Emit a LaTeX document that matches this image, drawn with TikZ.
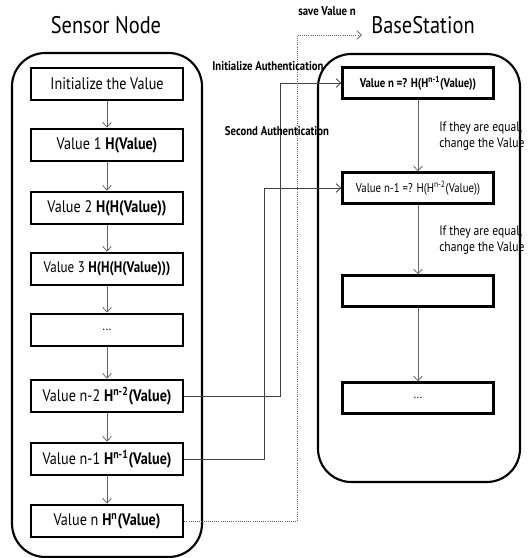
\documentclass[tikz,border=0pt]{standalone}
\usepackage{xcolor}
\usepackage{amsmath}
\usepackage{fontspec}
\setmainfont{PT Sans}[FakeStretch=0.85]
\usepackage{tikz}
\usetikzlibrary{arrows.meta}

\tikzset{
	sbox/.style={draw, line width=2pt, minimum width=114pt, minimum height=24pt, font=\fontsize{12.5}{14}\selectfont, inner sep=0pt},
	bbox/.style={draw, line width=2pt, minimum width=113pt, minimum height=23pt, font=\fontsize{9.5}{11}\selectfont, inner sep=0pt},
	frame/.style={draw, line width=1.6pt, rounded corners=25pt},
	flow/.style={-{Straight Barb[length=3.5pt,width=6.5pt]}, draw=black!60, line width=0.6pt},
	lbl/.style={font=\fontsize{9.5}{11}\bfseries, inner sep=0pt},
	note/.style={font=\fontsize{10.2}{11.5}\selectfont, align=left, inner sep=0pt, anchor=west},
}

\begin{document}
\begin{tikzpicture}[x=0.75pt, y=-0.75pt]
			\useasboundingbox (0,0) rectangle (529,558);
			\node[font=\fontsize{18}{20}\selectfont] (sn) at (106,25) {Sensor Node};
			\node[font=\fontsize{18}{20}\selectfont] (bs) at (423,25) {BaseStation};
			\draw[frame] (12,53) rectangle (202,557);
			\draw[frame] (318,54) rectangle (520,482);
			\node[sbox] (init) at (107,84) {Initialize the Value};
			\node[sbox] (v1) at (107,145) {Value 1 \textbf{H(Value)}};
			\node[sbox] (v2) at (107,208) {Value 2 \textbf{H(H(Value))}};
			\node[sbox, font=\fontsize{11.5}{13}\selectfont] (v3) at (107,269) {Value 3 \textbf{H(H(H(Value)))}};
			\node[sbox, font=\fontsize{10}{12}\selectfont] (vd) at (107,330) {...};
			\node[sbox] (vn2) at (107,396) {Value n-2 \textbf{H\textsuperscript{n-2}(Value)}};
			\node[sbox] (vn1) at (107,459) {Value n-1 \textbf{H\textsuperscript{n-1}(Value)}};
			\node[sbox] (vn) at (107,521) {Value n \textbf{H\textsuperscript{n}(Value)}};
			\node[bbox] (b1) at (418,83) {\textbf{Value n =? H(H\textsuperscript{n-1}(Value))}};
			\node[bbox] (b2) at (418,188) {Value n-1 =? H(H\textsuperscript{n-2}(Value))};
			\node[bbox] (b3) at (418,291) {};
			\node[bbox] (b4) at (418,398) {...};
			\draw[flow] (init) -- (v1);
			\draw[flow] (v1) -- (v2);
			\draw[flow] (v2) -- (v3);
			\draw[flow] (v3) -- (vd);
			\draw[flow] (vd) -- (vn2);
			\draw[flow] (vn2) -- (vn1);
			\draw[flow] (vn1) -- (vn);
			\draw[flow] (b1) -- (b2);
			\draw[flow] (b2) -- (b3);
			\draw[flow] (b3) -- (b4);
			\node[note] (eq1) at (439,136) {If they are equal,\\change the Value};
			\node[note] (eq2) at (439,240) {If they are equal,\\change the Value};
			\draw[flow, draw=black!75] (vn2.east) -- ++(96,0) |- (b1.west);
			\draw[flow, draw=black!75] (vn1.east) -- ++(80,0) |- (b2.west);
			\coordinate (sv) at (362,35);
			\draw[flow, densely dotted] (vn.east) -- ++(113,0) |- (sv);
			\node[lbl] (ia) at (268,66) {Initialize Authentication};
			\node[lbl] (sa) at (277,131) {Second Authentication};
			\node[lbl] (sl) at (327,11) {save Value n};
\end{tikzpicture}
\end{document}
